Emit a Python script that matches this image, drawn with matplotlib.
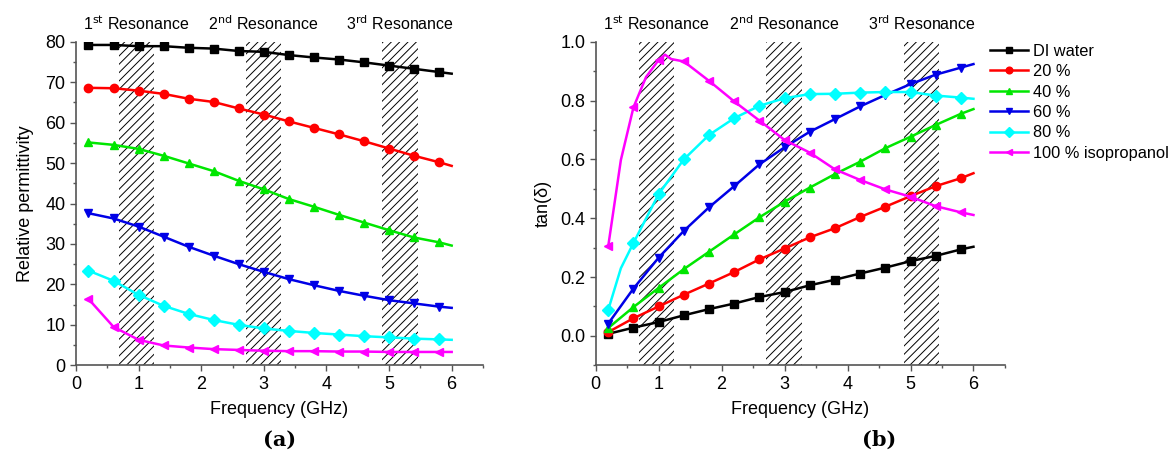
import matplotlib
matplotlib.use("Agg")
import matplotlib.pyplot as plt
from matplotlib.ticker import MultipleLocator

plt.rcParams['font.family'] = ['Liberation Sans', 'DejaVu Sans']
plt.rcParams['hatch.linewidth'] = 0.7

# ---------------- data ----------------
freq = [0.2, 0.6, 1.0, 1.4, 1.8, 2.2, 2.6, 3.0, 3.4, 3.8, 4.2, 4.6, 5.0, 5.4, 5.8, 6.0]
labels = ["DI water", "20 %", "40 %", "60 %", "80 %", "100 % isopropanol"]
colors = ["#000000", "#FF0000", "#00E600", "#0000E6", "#00FFFF", "#FF00FF"]
markers = ["s", "o", "^", "v", "D", "<"]

# (a) relative permittivity
perm_water = [79.2, 79.2, 78.9, 78.9, 78.5, 78.3, 77.7, 77.5, 76.7, 76.1, 75.6, 74.9, 74.1, 73.3, 72.5, 72.1]
perm_20 = [68.6, 68.5, 67.9, 67.1, 65.9, 65.1, 63.5, 62.0, 60.3, 58.7, 57.1, 55.4, 53.6, 51.8, 50.2, 49.3]
perm_40 = [55.1, 54.5, 53.5, 51.8, 49.9, 48.0, 45.6, 43.5, 41.1, 39.2, 37.2, 35.3, 33.4, 31.6, 30.4, 29.6]
perm_60 = [37.6, 36.3, 34.3, 31.8, 29.3, 27.1, 25.0, 23.1, 21.3, 19.8, 18.4, 17.2, 16.1, 15.3, 14.5, 14.2]
perm_80 = [23.4, 20.9, 17.4, 14.7, 12.7, 11.2, 10.0, 9.1, 8.5, 8.0, 7.6, 7.2, 6.9, 6.6, 6.4, 6.3]
perm_100 = [16.4, 9.5, 6.3, 4.9, 4.4, 4.0, 3.8, 3.6, 3.5, 3.5, 3.4, 3.4, 3.3, 3.3, 3.3, 3.3]

# (b) loss tangent
tan_water = [0.007, 0.028, 0.047, 0.070, 0.091, 0.110, 0.132, 0.149, 0.172, 0.191, 0.212, 0.232, 0.254, 0.272, 0.294, 0.303]
tan_20 = [0.013, 0.060, 0.100, 0.140, 0.178, 0.217, 0.260, 0.297, 0.335, 0.366, 0.404, 0.439, 0.475, 0.509, 0.536, 0.553]
tan_40 = [0.027, 0.098, 0.163, 0.227, 0.286, 0.345, 0.403, 0.456, 0.504, 0.550, 0.592, 0.638, 0.677, 0.717, 0.755, 0.771]
tan_60 = [0.042, 0.161, 0.266, 0.357, 0.437, 0.509, 0.583, 0.641, 0.694, 0.737, 0.780, 0.819, 0.856, 0.888, 0.912, 0.924]
freq_80b = [0.2, 0.4, 0.6, 1.0, 1.4, 1.8, 2.2, 2.6, 3.0, 3.4, 3.8, 4.2, 4.6, 5.0, 5.4, 5.8, 6.0]
tan_80 = [0.089, 0.230, 0.316, 0.482, 0.600, 0.683, 0.740, 0.782, 0.808, 0.822, 0.823, 0.827, 0.829, 0.829, 0.817, 0.810, 0.806]
freq_100b = [0.2, 0.4, 0.6, 0.8, 1.0, 1.1, 1.2, 1.4, 1.8, 2.2, 2.6, 3.0, 3.4, 3.8, 4.2, 4.6, 5.0, 5.4, 5.8, 6.0]
tan_100 = [0.306, 0.598, 0.777, 0.880, 0.938, 0.956, 0.941, 0.933, 0.867, 0.797, 0.732, 0.666, 0.623, 0.566, 0.530, 0.498, 0.473, 0.441, 0.420, 0.411]

bands = [(0.68, 1.25), (2.71, 3.28), (4.89, 5.46)]
band_titles = ["1$^{\\mathrm{st}}$ Resonance", "2$^{\\mathrm{nd}}$ Resonance", "3$^{\\mathrm{rd}}$ Resonance"]

marker_grid = [0.2 + 0.4 * k for k in range(15)]


def mark_idx(xs):
    return [i for i, x in enumerate(xs) if any(abs(x - m) < 1e-6 for m in marker_grid)]


fig = plt.figure(figsize=(11.74, 4.62), dpi=100)
axa = fig.add_axes([0.0647, 0.2093, 0.3467, 0.7004])
axb = fig.add_axes([0.5074, 0.2093, 0.3486, 0.7004])

spine_col = "#555555"
FS = 13


def style(ax):
    for s in ["top", "right"]:
        ax.spines[s].set_visible(False)
    for s in ["left", "bottom"]:
        ax.spines[s].set_color(spine_col)
        ax.spines[s].set_linewidth(1.2)
    ax.tick_params(which="both", direction="out", color=spine_col, labelsize=FS)
    ax.tick_params(which="major", length=4, width=1.0)
    ax.tick_params(which="minor", length=2.5, width=1.0)
    ax.set_xlim(0, 6.5)
    ax.xaxis.set_major_locator(MultipleLocator(1))
    ax.xaxis.set_minor_locator(MultipleLocator(0.5))
    ax.set_xlabel("Frequency (GHz)", fontsize=FS, labelpad=6)


def bands_draw(ax):
    for (x0, x1), t in zip(bands, band_titles):
        ax.axvspan(x0, x1, facecolor="none", edgecolor="black", hatch="////", linewidth=0, zorder=1)
        ax.text((x0 + x1) / 2, 1.055, t, transform=ax.get_xaxis_transform(),
                ha="center", va="center", fontsize=11.5)


# ---- (a)
style(axa)
axa.set_ylim(0, 80)
axa.yaxis.set_major_locator(MultipleLocator(10))
axa.yaxis.set_minor_locator(MultipleLocator(5))
axa.set_ylabel("Relative permittivity", fontsize=FS, labelpad=8)
bands_draw(axa)
for ys, c, m, lab in zip([perm_water, perm_20, perm_40, perm_60, perm_80, perm_100], colors, markers, labels):
    axa.plot(freq, ys, color=c, marker=m, markersize=6, linewidth=1.8,
             markevery=mark_idx(freq), zorder=3, label=lab)

# ---- (b)
style(axb)
axb.set_ylim(-0.1, 1.0)
axb.yaxis.set_minor_locator(MultipleLocator(0.1))
axb.set_yticks([0.0, 0.2, 0.4, 0.6, 0.8, 1.0])
axb.set_yticklabels(["0.0", "0.2", "0.4", "0.6", "0.8", "1.0"])
axb.set_ylabel("tan(δ)", fontsize=FS, labelpad=6)
bands_draw(axb)
series_b = [(freq, tan_water), (freq, tan_20), (freq, tan_40), (freq, tan_60),
            (freq_80b, tan_80), (freq_100b, tan_100)]
handles = []
for (xs, ys), c, m, lab in zip(series_b, colors, markers, labels):
    h, = axb.plot(xs, ys, color=c, marker=m, markersize=6, linewidth=1.8,
                  markevery=mark_idx(xs), zorder=3, label=lab)
    handles.append(h)

leg = fig.legend(handles=handles, labels=labels, loc="upper left",
                 bbox_to_anchor=(0.839, 0.916), frameon=False, fontsize=11.8,
                 handlelength=2.3, handletextpad=0.3, labelspacing=0.33,
                 markerscale=0.8, borderaxespad=0.0, borderpad=0.3)

fig.text(280 / 1174, 0.048, "(a)", ha="center", va="center", fontsize=15,
         fontweight="bold", family=["DejaVu Serif"])
fig.text(879 / 1174, 0.048, "(b)", ha="center", va="center", fontsize=15,
         fontweight="bold", family=["DejaVu Serif"])

fig.savefig("out.png", dpi=100)
